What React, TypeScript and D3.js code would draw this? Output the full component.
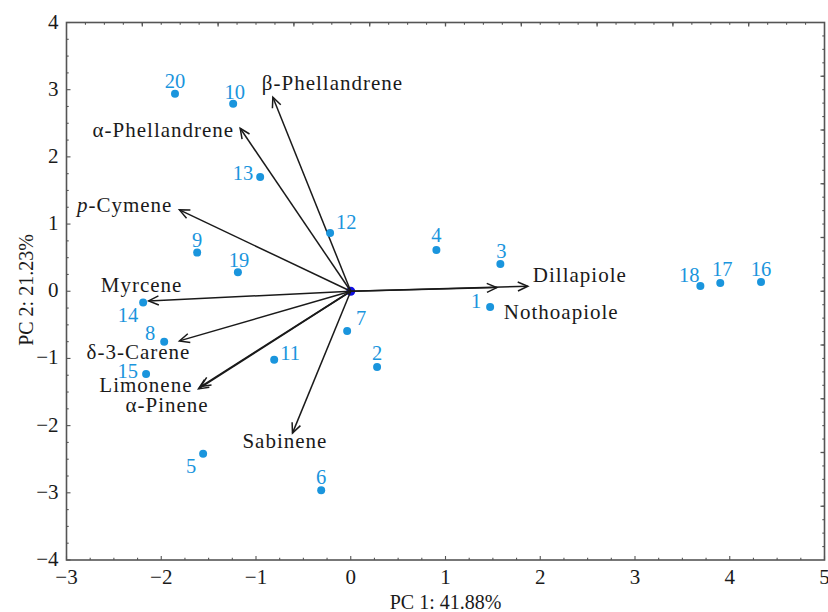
import React from "react";
import * as d3 from "d3";

// ---- data ----
const samples = ["1","2","3","4","5","6","7","8","9","10","11","12","13","14","15","16","17","18","19","20"];
const pc1 = [1.471, 0.278, 1.579, 0.904, -1.558, -0.312, -0.038, -1.969, -1.621, -1.241, -0.808, -0.218, -0.956, -2.191, -2.16, 4.33, 3.90, 3.69, -1.191, -1.855];
const pc2 = [-0.233, -1.126, 0.407, 0.615, -2.42, -2.96, -0.59, -0.75, 0.575, 2.79, -1.02, 0.868, 1.70, -0.169, -1.23, 0.139, 0.124, 0.08, 0.283, 2.94];

const variables = ["β-Phellandrene", "α-Phellandrene", "p-Cymene", "Myrcene", "δ-3-Carene", "Limonene", "α-Pinene", "Sabinene", "Dillapiole", "Nothoapiole"];
const loadX = [-0.822, -1.167, -1.808, -2.133, -1.808, -1.607, -1.584, -0.615, 1.869, 1.542];
const loadY = [2.888, 2.426, 1.211, -0.144, -0.739, -1.453, -1.419, -2.112, 0.075, 0.054];

const xTicks = [-3, -2, -1, 0, 1, 2, 3, 4, 5];
const yTicks = [-4, -3, -2, -1, 0, 1, 2, 3, 4];
const xTitle = "PC 1: 41.88%";
const yTitle = "PC 2: 21.23%";

// ---- layout (label placement relative to marks) ----
type Place = [string, number, number];
const pointLabelPlace: Place[] = [
  ["end", -9, 1], ["middle", 0, -7], ["middle", 1, -6], ["middle", 0, -7.5], ["middle", -12, 19],
  ["middle", 0, -6], ["middle", 14, -6], ["middle", -14, -2], ["middle", 0, -5.5], ["middle", 1.5, -5],
  ["start", 6, 0], ["start", 6, -4], ["end", -7, 3], ["end", -5, 19], ["end", -8, 4],
  ["middle", 0, -6], ["middle", 2, -6.6], ["end", -1, -4], ["middle", 1, -5.6], ["middle", 0, -5.7],
];
const varLabelPlace: Place[] = [
  ["start", -11, -7], ["end", -6, 9], ["end", -7, 2], ["middle", -7, -9], ["middle", -41, 18],
  ["end", -6, 3], ["end", 8, 25.5], ["middle", -7.6, 15], ["start", 5, -4], ["start", 7, 31],
];

const W = 828, H = 612;
const FONT = "'Liberation Serif', 'Times New Roman', serif";
const BLUE = "#1a95dd";
const INK = "#1a1a1a";
const FRAME = "#555555";

export default function App() {
  const x = d3.scaleLinear().domain([-3, 5]).range([66.5, 824.5]);
  const y = d3.scaleLinear().domain([-4, 4]).range([560, 22.5]);
  const [x0, x1] = x.range();
  const [y0, y1] = y.range();

  const bottomMinor = d3.range(-3, 5.001, 0.25);
  const leftMinor = d3.range(-4, 4.001, 0.25);
  const topMinor = d3.range(-2.8, 4.801, 0.2);
  const topMajor = d3.range(-2.2, 4.3, 0.8);
  const rightMinor = d3.range(-3.8, 3.801, 0.2);
  const rightMajor = d3.range(-3.2, 3.3, 0.8);

  const ox = x(0), oy = y(0);

  const arrowHead = (tx: number, ty: number) => {
    const dx = tx - ox, dy = ty - oy;
    const len = Math.hypot(dx, dy);
    const ux = dx / len, uy = dy / len;
    const L = 10, Wd = 4.5;
    const bx = tx - L * ux, by = ty - L * uy;
    return `M${bx + Wd * -uy},${by + Wd * ux}L${tx},${ty}L${bx - Wd * -uy},${by - Wd * ux}`;
  };

  return (
    <svg width={W} height={H} style={{ position: "absolute", left: 0, top: 0, background: "#fff" }}
      fontFamily={FONT}>
      <rect x={0} y={0} width={W} height={H} fill="#fff" />
      {/* frame */}
      <rect x={x0} y={y1} width={x1 - x0} height={y0 - y1} fill="none" stroke={FRAME} strokeWidth={1.6} />
      {/* bottom ticks */}
      {bottomMinor.map((v, i) => {
        const major = Math.abs(v - Math.round(v)) < 1e-6;
        return <line key={"b" + i} x1={x(v)} x2={x(v)} y1={y0} y2={y0 - (major ? 4 : 2.2)} stroke={FRAME} strokeWidth={1.1} />;
      })}
      {leftMinor.map((v, i) => {
        const major = Math.abs(v - Math.round(v)) < 1e-6;
        return <line key={"l" + i} x1={x0} x2={x0 + (major ? 4 : 2.2)} y1={y(v)} y2={y(v)} stroke={FRAME} strokeWidth={1.1} />;
      })}
      {topMinor.map((v, i) => (
        <line key={"t" + i} x1={x(v)} x2={x(v)} y1={y1} y2={y1 + 2.2} stroke={FRAME} strokeWidth={1.1} />
      ))}
      {topMajor.map((v, i) => (
        <line key={"tm" + i} x1={x(v)} x2={x(v)} y1={y1} y2={y1 + 4} stroke={FRAME} strokeWidth={1.3} />
      ))}
      {rightMinor.map((v, i) => (
        <line key={"r" + i} x1={x1} x2={x1 - 2.2} y1={y(v)} y2={y(v)} stroke={FRAME} strokeWidth={1.1} />
      ))}
      {rightMajor.map((v, i) => (
        <line key={"rm" + i} x1={x1} x2={x1 - 4} y1={y(v)} y2={y(v)} stroke={FRAME} strokeWidth={1.3} />
      ))}
      {/* tick labels */}
      {xTicks.map((v) => (
        <text key={"xl" + v} x={x(v)} y={y0 + 24} textAnchor="middle" fontSize={21} fill={INK}>
          {v < 0 ? "\u2212" + Math.abs(v) : String(v)}
        </text>
      ))}
      {yTicks.map((v) => (
        <text key={"yl" + v} x={x0 - 8} y={y(v) + 6} textAnchor="end" fontSize={21} fill={INK}>
          {v < 0 ? "\u2212" + Math.abs(v) : String(v)}
        </text>
      ))}
      {/* axis titles */}
      <text x={445.6} y={609} textAnchor="middle" fontSize={20} fill={INK}>{xTitle}</text>
      <text transform={`translate(33,290) rotate(-90)`} textAnchor="middle" fontSize={20} fill={INK}>{yTitle}</text>

      {/* center dot */}
      <circle cx={ox} cy={oy} r={4.5} fill="#1010e0" />

      {/* loading arrows */}
      {variables.map((name, i) => {
        const tx = x(loadX[i]), ty = y(loadY[i]);
        return (
          <g key={"a" + i} stroke={INK} strokeWidth={1.5} fill="none">
            <line x1={ox} y1={oy} x2={tx} y2={ty} />
            <path d={arrowHead(tx, ty)} strokeLinejoin="miter" />
          </g>
        );
      })}
      {variables.map((name, i) => {
        const tx = x(loadX[i]), ty = y(loadY[i]);
        const [anchor, dx, dy] = varLabelPlace[i];
        const italicP = name.startsWith("p-");
        return (
          <text key={"v" + i} x={tx + dx} y={ty + dy} textAnchor={anchor as any} fontSize={21}
            letterSpacing={1} fill={INK}>
            {italicP ? (<><tspan fontStyle="italic">p</tspan>{name.slice(1)}</>) : name}
          </text>
        );
      })}

      {/* sample points */}
      {samples.map((s, i) => (
        <circle key={"p" + i} cx={x(pc1[i])} cy={y(pc2[i])} r={4} fill={BLUE} />
      ))}
      {samples.map((s, i) => {
        const [anchor, dx, dy] = pointLabelPlace[i];
        return (
          <text key={"pl" + i} x={x(pc1[i]) + dx} y={y(pc2[i]) + dy} textAnchor={anchor as any}
            fontSize={20.5} fill={BLUE}>{s}</text>
        );
      })}
    </svg>
  );
}
